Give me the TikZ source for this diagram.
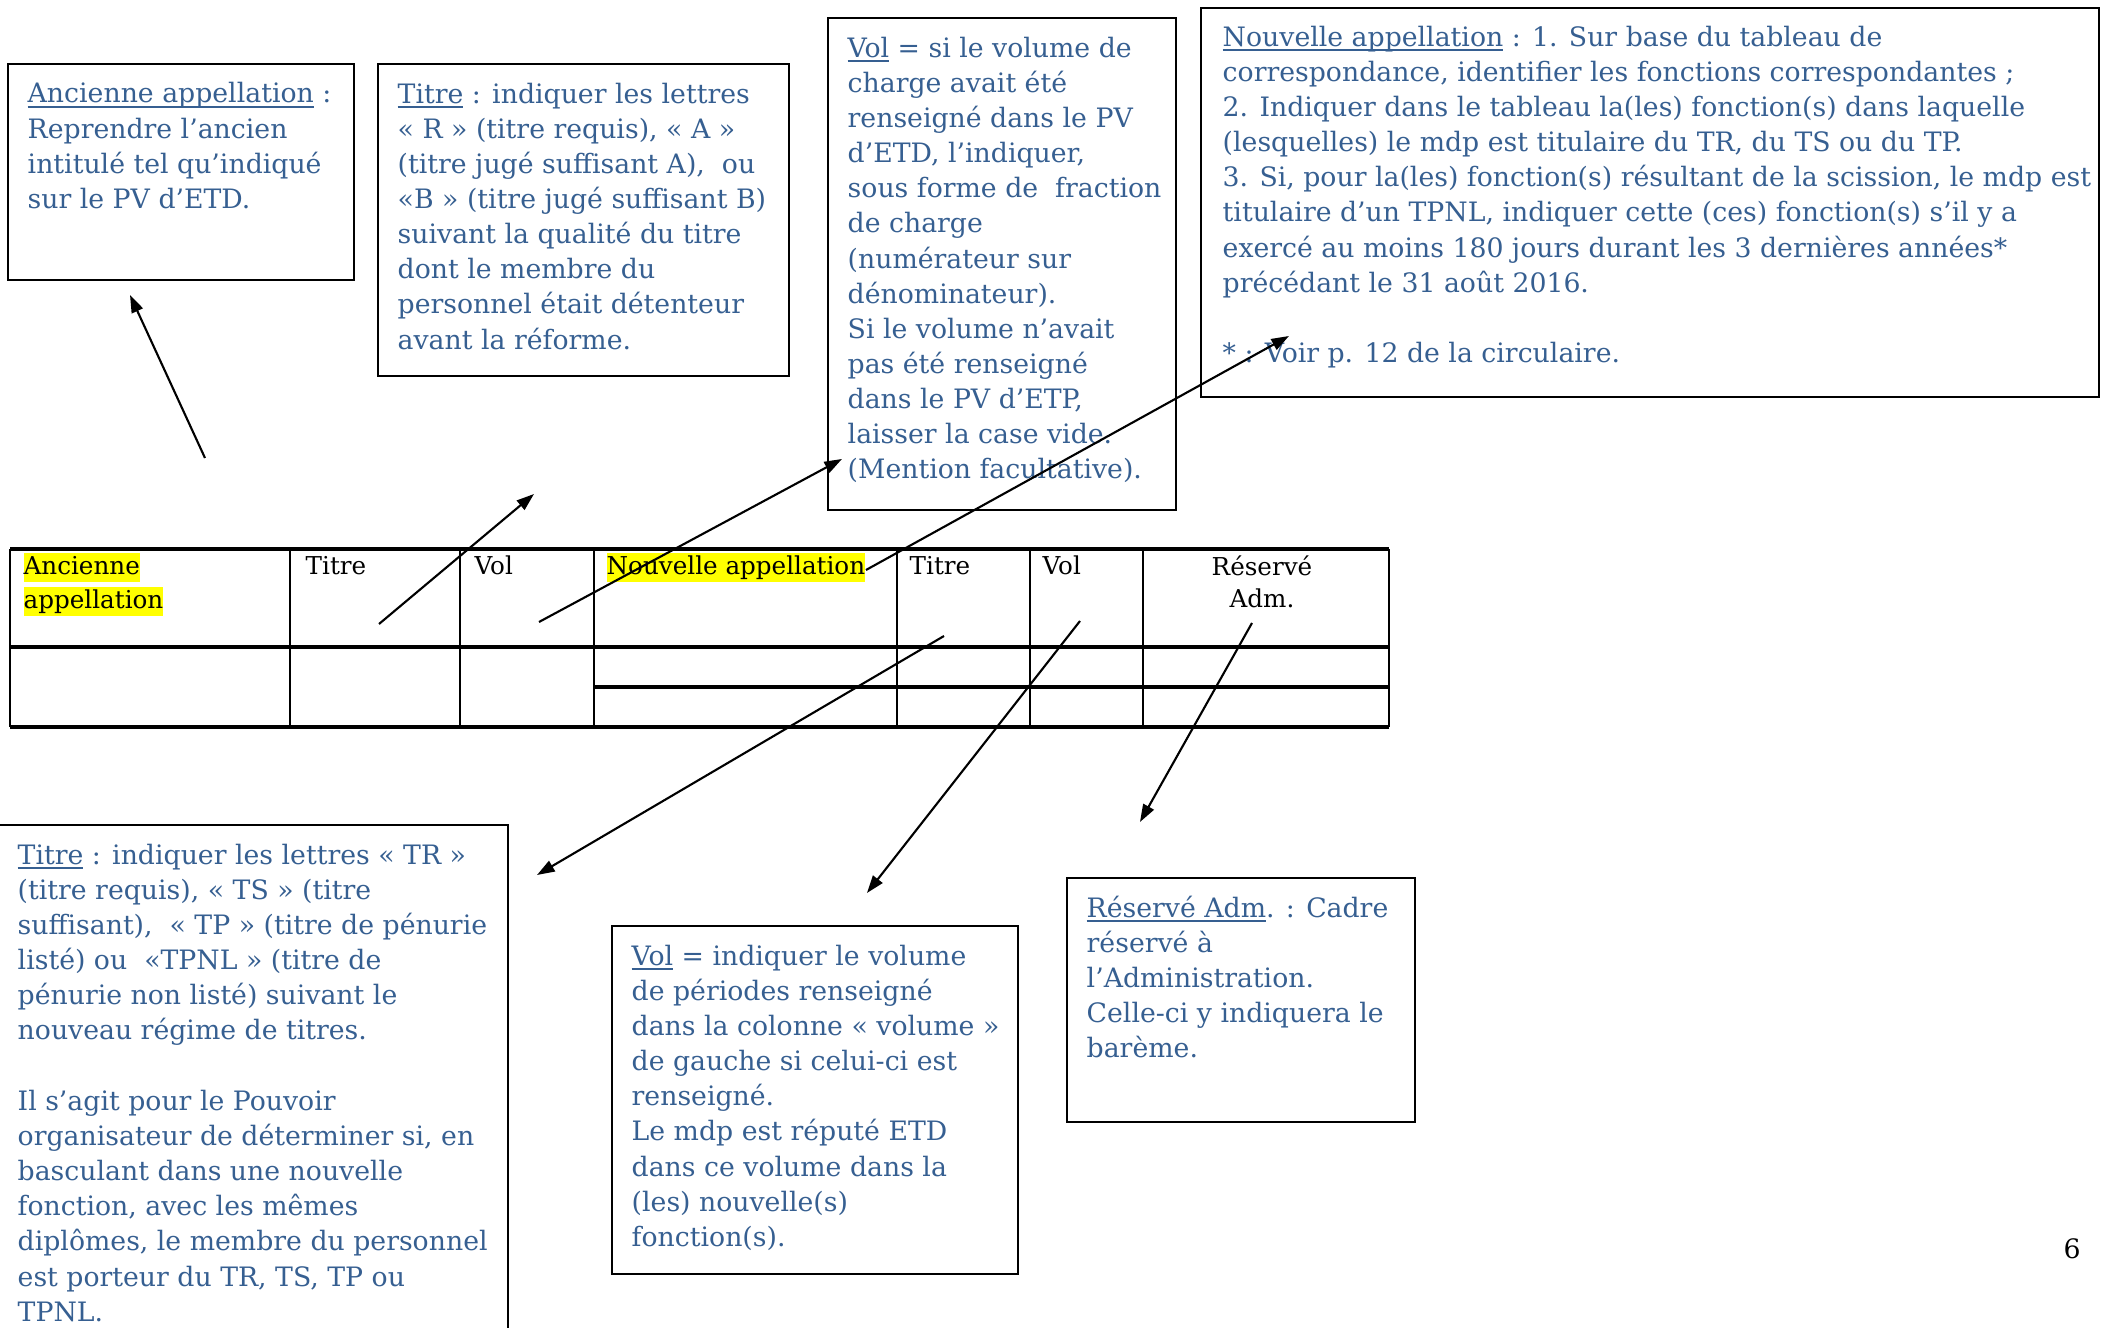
\documentclass[tikz,border=0pt]{standalone}
\usepackage{fontspec}
\setmainfont{DejaVu Serif}
\usetikzlibrary{arrows.meta, positioning}
\definecolor{noteblue}{RGB}{54,95,145}
\definecolor{marker}{RGB}{255,255,0}
\newcommand{\souligne}[1]{\setbox0\hbox{#1}\rlap{\rule[-1.4pt]{\wd0}{0.45pt}}\box0\relax}

\begin{document}
\begin{tikzpicture}[
        x=0.01cm, y=-0.01cm, % one unit = one pixel of the page
        note/.style={draw, line width=0.6pt, anchor=north west, inner sep=0pt},
        notetext/.style={anchor=north west, inner sep=0pt, align=left, text=noteblue,
          font=\fontsize{7.6}{10}\selectfont},
        headtext/.style={inner sep=0pt, font=\fontsize{7}{9.1}\selectfont},
        head/.style={headtext, anchor=north west, text height=6.1pt, text depth=2.15pt},
        marked/.style={head, fill=marker},
        tabrule/.style={line width=0.9pt},
        tabcol/.style={line width=0.4pt},
        ->, % arrow style
        >={Triangle[length=5pt, width=3.4pt]} % arrowhead style
      ]
      \useasboundingbox (0,0) rectangle (2105,1328);

      % Notes
      \node[note, minimum width=3.46cm, minimum height=2.16cm] (oldNote) at (7,63) {};
      \node[notetext] (oldText) at (27,82) {\souligne{Ancienne appellation} :\\
        Reprendre l’ancien\\
        intitulé tel qu’indiqué\\
        sur le PV d’ETD.};

      \node[note, minimum width=4.11cm, minimum height=3.12cm] (titleNote) at (377,63) {};
      \node[notetext] (titleText) at (397,82) {\souligne{Titre} : indiquer les lettres\\
        « R » (titre requis), « A »\\
        (titre jugé suffisant A),~ ou\\
        «B » (titre jugé suffisant B)\\
        suivant la qualité du titre\\
        dont le membre du\\
        personnel était détenteur\\
        avant la réforme.};

      \node[note, minimum width=3.48cm, minimum height=4.92cm] (volNote) at (827,17) {};
      \node[notetext] (volText) at (847,36) {\souligne{Vol} = si le volume de\\
        charge avait été\\
        renseigné dans le PV\\
        d’ETD, l’indiquer,\\
        sous forme de~ fraction\\
        de charge\\
        (numérateur sur\\
        dénominateur).\\
        Si le volume n’avait\\
        pas été renseigné\\
        dans le PV d’ETP,\\
        laisser la case vide.\\
        (Mention facultative).};

      \node[note, minimum width=8.97cm, minimum height=3.89cm] (newNote) at (1200,7) {};
      \node[notetext] (newText) at (1222,25) {\souligne{Nouvelle appellation} : 1. Sur base du tableau de\\
        correspondance, identifier les fonctions correspondantes ;\\
        2. Indiquer dans le tableau la(les) fonction(s) dans laquelle\\
        (lesquelles) le mdp est titulaire du TR, du TS ou du TP.\\
        3. Si, pour la(les) fonction(s) résultant de la scission, le mdp est\\
        titulaire d’un TPNL, indiquer cette (ces) fonction(s) s’il y a\\
        exercé au moins 180 jours durant les 3 dernières années*\\
        précédant le 31 août 2016.\\[10pt]
        * : Voir p. 12 de la circulaire.};

      \node[note, minimum width=5.10cm, minimum height=5.40cm] (newTitleNote) at (-3,824) {};
      \node[notetext] (newTitleText) at (17,843) {\souligne{Titre} : indiquer les lettres « TR »\\
        (titre requis), « TS » (titre\\
        suffisant),~ « TP » (titre de pénurie\\
        listé) ou~ «TPNL » (titre de\\
        pénurie non listé) suivant le\\
        nouveau régime de titres.\\[10pt]
        Il s’agit pour le Pouvoir\\
        organisateur de déterminer si, en\\
        basculant dans une nouvelle\\
        fonction, avec les mêmes\\
        diplômes, le membre du personnel\\
        est porteur du TR, TS, TP ou\\
        TPNL.};

      \node[note, minimum width=4.06cm, minimum height=3.48cm] (newVolNote) at (611,925) {};
      \node[notetext] (newVolText) at (631,944) {\souligne{Vol} = indiquer le volume\\
        de périodes renseigné\\
        dans la colonne « volume »\\
        de gauche si celui-ci est\\
        renseigné.\\
        Le mdp est réputé ETD\\
        dans ce volume dans la\\
        (les) nouvelle(s)\\
        fonction(s).};

      \node[note, minimum width=3.48cm, minimum height=2.44cm] (admNote) at (1066,877) {};
      \node[notetext] (admText) at (1086,895) {\souligne{Réservé Adm}. : Cadre\\
        réservé à\\
        l’Administration.\\
        Celle-ci y indiquera le\\
        barème.};

      % Table
      \foreach \x in {10,290,460,594,897,1030,1143,1389}
        \draw[-, tabcol] (\x,549) -- (\x,727);
      \foreach \y in {549,647,727}
        \draw[-, tabrule] (10,\y) -- (1389,\y);
      \draw[-, tabrule] (594,687) -- (1389,687);

      \node[marked] (oldHeadA) at (23,552) {Ancienne};
      \node[marked, below right=1pt and 0pt of oldHeadA.south west] (oldHeadB) {appellation};
      \node[head] (titleHead) at (305,552) {Titre};
      \node[head] (volHead) at (474,552) {Vol};
      \node[marked] (newHead) at (606,552) {Nouvelle appellation};
      \node[head] (newTitleHead) at (909,552) {Titre};
      \node[head] (newVolHead) at (1042,552) {Vol};
      \node[headtext, anchor=north, align=center] (admHead) at (1262,555) {Réservé\\Adm.};

      \node[font=\fontsize{7.6}{10}\selectfont] (pageNum) at (2072,1249) {6};

      % Arrow ends
      \coordinate (a1) at (205,458);  \coordinate (b1) at (130,295);
      \coordinate (a2) at (379,624);  \coordinate (b2) at (534,494);
      \coordinate (a3) at (539,622);  \coordinate (b3) at (842,459);
      \coordinate (a4) at (866,570);  \coordinate (b4) at (1289,336);
      \coordinate (a5) at (944,636);  \coordinate (b5) at (537,875);
      \coordinate (a6) at (1080,621); \coordinate (b6) at (867,893);
      \coordinate (a7) at (1252,623); \coordinate (b7) at (1140,822);

      % Arrows
      \foreach \i in {1,...,7}
        \draw[line width=0.6pt] (a\i) -- (b\i);

    \end{tikzpicture}
\end{document}
